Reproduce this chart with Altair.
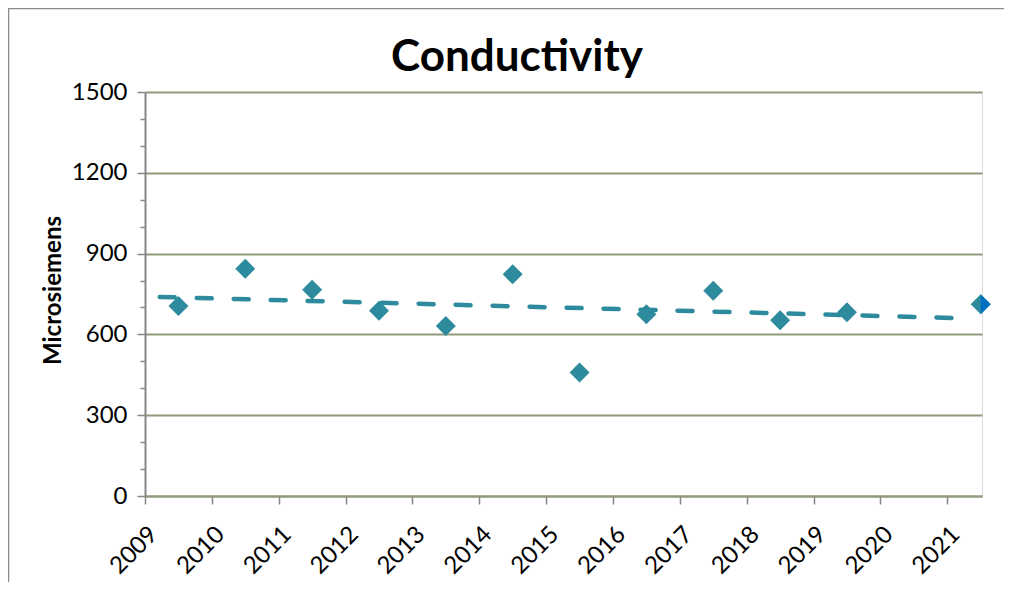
import altair as alt
import pandas as pd

# ---- data ----
years = [2009.5, 2010.5, 2011.5, 2012.5, 2013.5, 2014.5, 2015.5, 2016.5,
         2017.5, 2018.5, 2019.5, 2021.5]
conductivity = [705, 844, 766, 688, 631, 823, 459, 675, 762, 653, 682, 712]
trend_years = [2009.22, 2021.25]
trend_values = [739, 660]
latest_year = [2021.5]
latest_value = [712]
x_ticks = list(range(2009, 2022))
y_ticks = list(range(0, 1501, 100))
chart_title = ["Conductivity"]

W, H = 837, 404
TEAL = "#2E8B9E"
BLUE = "#0070C0"
GRID = "#8E9C7C"
AXIS = "#868686"
FONT = "Lato"

pts = pd.DataFrame({"year": years, "value": conductivity})
trend = pd.DataFrame({"year": trend_years, "value": trend_values})
latest = pd.DataFrame({"year": latest_year, "value": latest_value})
title_df = pd.DataFrame({"t": chart_title})
one = pd.DataFrame({"a": [0]})

x_scale = alt.Scale(domain=[2009, 2021.52], nice=False, zero=False)
y_scale = alt.Scale(domain=[0, 1500], nice=False, zero=True)

major = "datum.value % 300 === 0"

x_axis = alt.Axis(
    values=x_ticks, format="d", title=None,
    labelAngle=-45, labelAlign="right", labelBaseline="top", labelPadding=18,
    labelFontSize=24, labelFont=FONT, labelColor="black",
    tickSize=8, tickColor=AXIS, tickWidth=1.5,
    domainColor=GRID, domainWidth=2, grid=False,
)
y_axis = alt.Axis(
    values=y_ticks, format="d",
    labelExpr=f"{major} ? datum.label : ''",
    labelFontSize=24, labelFont=FONT, labelColor="black", labelPadding=10,
    tickSize={"condition": {"test": major, "value": 8}, "value": 5},
    tickColor=AXIS, tickWidth=1.5,
    domainColor=AXIS, domainWidth=2,
    grid=True, gridColor=GRID, gridWidth=2,
    gridOpacity={"condition": {"test": major, "value": 1}, "value": 0},
    title="Microsiemens", titleFont=FONT, titleFontSize=24, titleFontWeight="bold",
    titleColor="black", titleX=-92, titleY=H / 2 - 4, titleAlign="center",
    titleBaseline="middle",
)

X = alt.X("year:Q", scale=x_scale, axis=x_axis)
Y = alt.Y("value:Q", scale=y_scale, axis=y_axis)

points = alt.Chart(pts).mark_point(
    shape="diamond", filled=True, size=400, color=TEAL, opacity=1
).encode(x=X, y=Y)

half = alt.Chart(latest).mark_point(
    shape="M0,-1L1,0L0,1Z", filled=True, size=400, color=BLUE, opacity=1
).encode(x=X, y=Y)

trend_line = alt.Chart(trend).mark_line(
    color=TEAL, strokeWidth=4.5, strokeDash=[15, 22], strokeCap="round"
).encode(x=X, y=Y)

title_text = alt.Chart(title_df).mark_text(
    font=FONT, fontSize=44, fontWeight="bold", color="black",
    align="center", baseline="alphabetic",
).encode(text="t:N", x=alt.value(372), y=alt.value(-21))

frame_left = alt.Chart(one).mark_rule(color="#8A8A8A", strokeWidth=1.5).encode(
    x=alt.value(-136.5), y=alt.value(-83.5), y2=alt.value(H + 100)
)
frame_top = alt.Chart(one).mark_rule(color="#8A8A8A", strokeWidth=1.5).encode(
    y=alt.value(-83.5), x=alt.value(-137), x2=alt.value(W + 30)
)

chart = alt.layer(points, half, trend_line, title_text, frame_left, frame_top).properties(
    width=W, height=H,
    padding={"left": 137, "top": 84, "right": 22, "bottom": 86},
    autosize=alt.AutoSizeParams(type="none"),
).configure_view(fill="#DEEFC9", strokeWidth=0).configure(background="white")

chart.save("out.html", embed_options={"renderer": "svg", "actions": False})
